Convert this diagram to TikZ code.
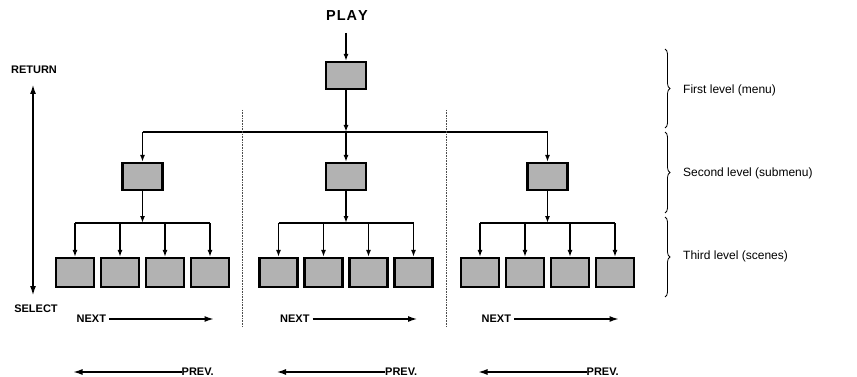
\documentclass[tikz,border=0pt]{standalone}
\usepackage{fontspec}
\setmainfont{Liberation Sans}
\usetikzlibrary{arrows.meta,decorations.pathreplacing}
\begin{document}
\begin{tikzpicture}[x=1pt,y=-1pt,
  box/.style={draw=black,line width=2.2pt,fill=black!30,inner sep=0pt},
  topbox/.style={box,minimum width=40pt,minimum height=27pt},
  scenebox/.style={box,minimum width=38pt,minimum height=29pt},
  conn/.style={line width=1.4pt,-{Latex[length=7pt,width=5pt]}},
  plain/.style={line width=1.4pt},
  navarrow/.style={line width=2.2pt,-{Latex[length=10pt,width=6pt]}},
  navlabel/.style={font=\bfseries\fontsize{11}{13}\selectfont,inner sep=0pt},
  levellabel/.style={font=\fontsize{12}{14}\selectfont,anchor=west,inner sep=0pt},
  sep/.style={densely dotted,line width=0.6pt,black!70},
  lvlbrace/.style={decorate,decoration={brace,amplitude=5pt},line width=0.8pt}]
\useasboundingbox (0,0) rectangle (857,377);

% top level
\node[font=\bfseries\fontsize{14.5}{16}\selectfont,inner sep=0pt] (play) at (347,16) {P\kern1ptL\kern1ptA\kern1ptY};
\node[topbox] (top) at (346,75.5) {};
\coordinate (pin) at (346,33);
\draw[conn] (pin) -- (top.north);
\coordinate (hl) at (142.5,132);
\coordinate (hr) at (547.5,132);
\coordinate (hm) at (346,132);
\draw[conn] (top.south) -- (hm);
\draw[plain] (hl) -- (hr);

% second level and scenes
\foreach \g/\cx in {a/142.5,b/346,c/547.5}{
  \node[topbox] (s\g) at (\cx,176.5) {};
  \draw[conn] (\cx,132) -- (s\g.north);
  \coordinate (j\g) at (\cx,223);
  \draw[conn] (s\g.south) -- (j\g);
  \foreach \i/\dx in {1/-67.5,2/-22.5,3/22.5,4/67.5}{
    \node[scenebox] (t\g\i) at (\cx+\dx,272.5) {};
    \draw[conn] (\cx+\dx,223) -- (t\g\i.north);
  }
  \draw[plain] (\cx-67.5,223) -- (\cx+67.5,223);
  % next / prev
  \node[navlabel,anchor=west] (next\g) at (\cx-66,319) {NEXT};
  \coordinate (nend\g) at (\cx+72,319);
  \draw[navarrow] ([xshift=3pt]next\g.east) -- (nend\g);
  \node[navlabel,anchor=west] (prev\g) at (\cx+39,372) {PREV.};
  \coordinate (pend\g) at (\cx-70,372);
  \draw[navarrow] (prev\g.west) -- (pend\g);
}

% separators
\draw[sep] (242,110) -- (242,327);
\draw[sep] (446,110) -- (446,327);

% return / select
\node[navlabel] (ret) at (34,70) {RETURN};
\node[navlabel] (sel) at (36,309) {SELECT};
\coordinate (rtip) at (33,84);
\coordinate (stip) at (33,296);
\draw[line width=2.4pt,{Latex[length=10pt,width=6pt]}-{Latex[length=10pt,width=6pt]}] (rtip) -- (stip);

% braces
\draw[lvlbrace] (665,49) -- (665,128);
\draw[lvlbrace] (665,132) -- (665,213);
\draw[lvlbrace] (665,217) -- (665,297);
\node[levellabel] (l1) at (683,90) {First level (menu)};
\node[levellabel] (l2) at (683,173) {Second level (submenu)};
\node[levellabel] (l3) at (683,256) {Third level (scenes)};
\end{tikzpicture}
\end{document}
